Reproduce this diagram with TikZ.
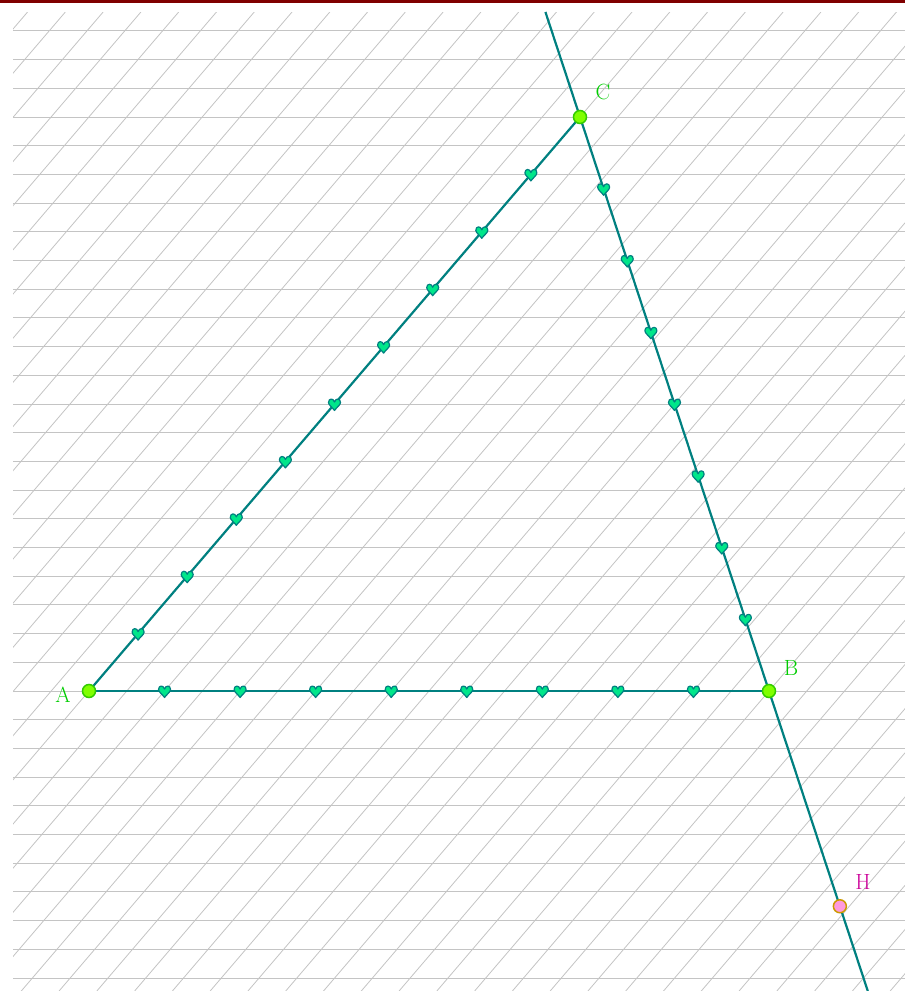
\documentclass[tikz,border=0pt]{standalone}
\usetikzlibrary{calc}
\definecolor{gridgray}{HTML}{C4C4C4}
\definecolor{lineteal}{HTML}{008080}
\definecolor{heartfill}{HTML}{00E68A}
\definecolor{ptfill}{HTML}{80FF00}
\definecolor{ptdraw}{HTML}{33CC00}
\definecolor{lblgreen}{HTML}{00CC00}
\definecolor{hfill}{HTML}{FF99DD}
\definecolor{hdraw}{HTML}{CC9900}
\definecolor{hlbl}{HTML}{CC0099}
\definecolor{topred}{HTML}{800000}
\tikzset{
  gridline/.style={gridgray, line width=1pt},
  segline/.style={lineteal, line width=2.2pt},
  freept/.style={circle, fill=ptfill, draw=ptdraw, line width=1.5pt, inner sep=0pt, minimum size=13pt},
  hpt/.style={circle, fill=hfill, draw=hdraw, line width=1.5pt, inner sep=0pt, minimum size=13pt},
  lbl/.style={text=lblgreen, font=\fontsize{22}{22}\selectfont, inner sep=0pt},
  hlabel/.style={text=hlbl, font=\fontsize{22}{22}\selectfont, inner sep=0pt},
  heart/.pic={\draw[lineteal, fill=heartfill, line width=1.2pt, line join=round]
    (0,-2) .. controls (-1,-6) and (-6,-6) .. (-6,-1.5)
    .. controls (-6,1) and (-2,3.5) .. (0,6.5)
    .. controls (2,3.5) and (6,1) .. (6,-1.5)
    .. controls (6,-6) and (1,-6) .. (0,-2) -- cycle;}
}
\begin{document}
\begin{tikzpicture}[x=1pt,y=-1pt]
\useasboundingbox (0,0) rectangle (905,991);
\fill[white] (0,0) rectangle (905,991);
\fill[topred] (0,0) rectangle (905,2.5);
% grid
\begin{scope}
\clip (13,12) rectangle (905,991);
\foreach \k in {-11,...,24} {
  \draw[gridline] (13,{691-28.7*\k}) -- (905,{691-28.7*\k});
}
\foreach \k in {-18,...,29} {
  \draw[gridline, line width=0.8pt] ({89+37.778*\k-256.6},991) -- ({89+37.778*\k+580.8},12);
}
\end{scope}
% points
\coordinate (A) at (89,691);
\coordinate (B) at (769,691);
\coordinate (C) at (580,117);
\coordinate (Ltop) at ($(C)!{-105/574}!(B)$);
\coordinate (Lbot) at ($(C)!{874/574}!(B)$);
\coordinate (Hc) at ($(C)!1.375!(B)$);
% lines
\draw[segline] (Ltop) -- (Lbot);
\draw[segline] (A) -- (B);
\draw[segline] (A) -- (C);
% hearts
\foreach \k in {1,...,8} { \pic at ($(A)!{\k/9}!(B)$) {heart}; }
\foreach \k in {1,...,9} { \pic at ($(A)!{\k/10}!(C)$) {heart}; }
\foreach \k in {1,...,7} { \pic at ($(C)!{\k/8}!(B)$) {heart}; }
% point nodes
\node[freept] (PA) at (A) {};
\node[freept] (PB) at (B) {};
\node[freept] (PC) at (C) {};
\node[hpt] (PH) at (Hc) {};
\node[lbl] (lA) at (63,695) {A};
\node[lbl] (lB) at (791,668) {B};
\node[lbl] (lC) at (603,92) {C};
\node[hlabel] (lH) at (863,882) {H};
\end{tikzpicture}
\end{document}
